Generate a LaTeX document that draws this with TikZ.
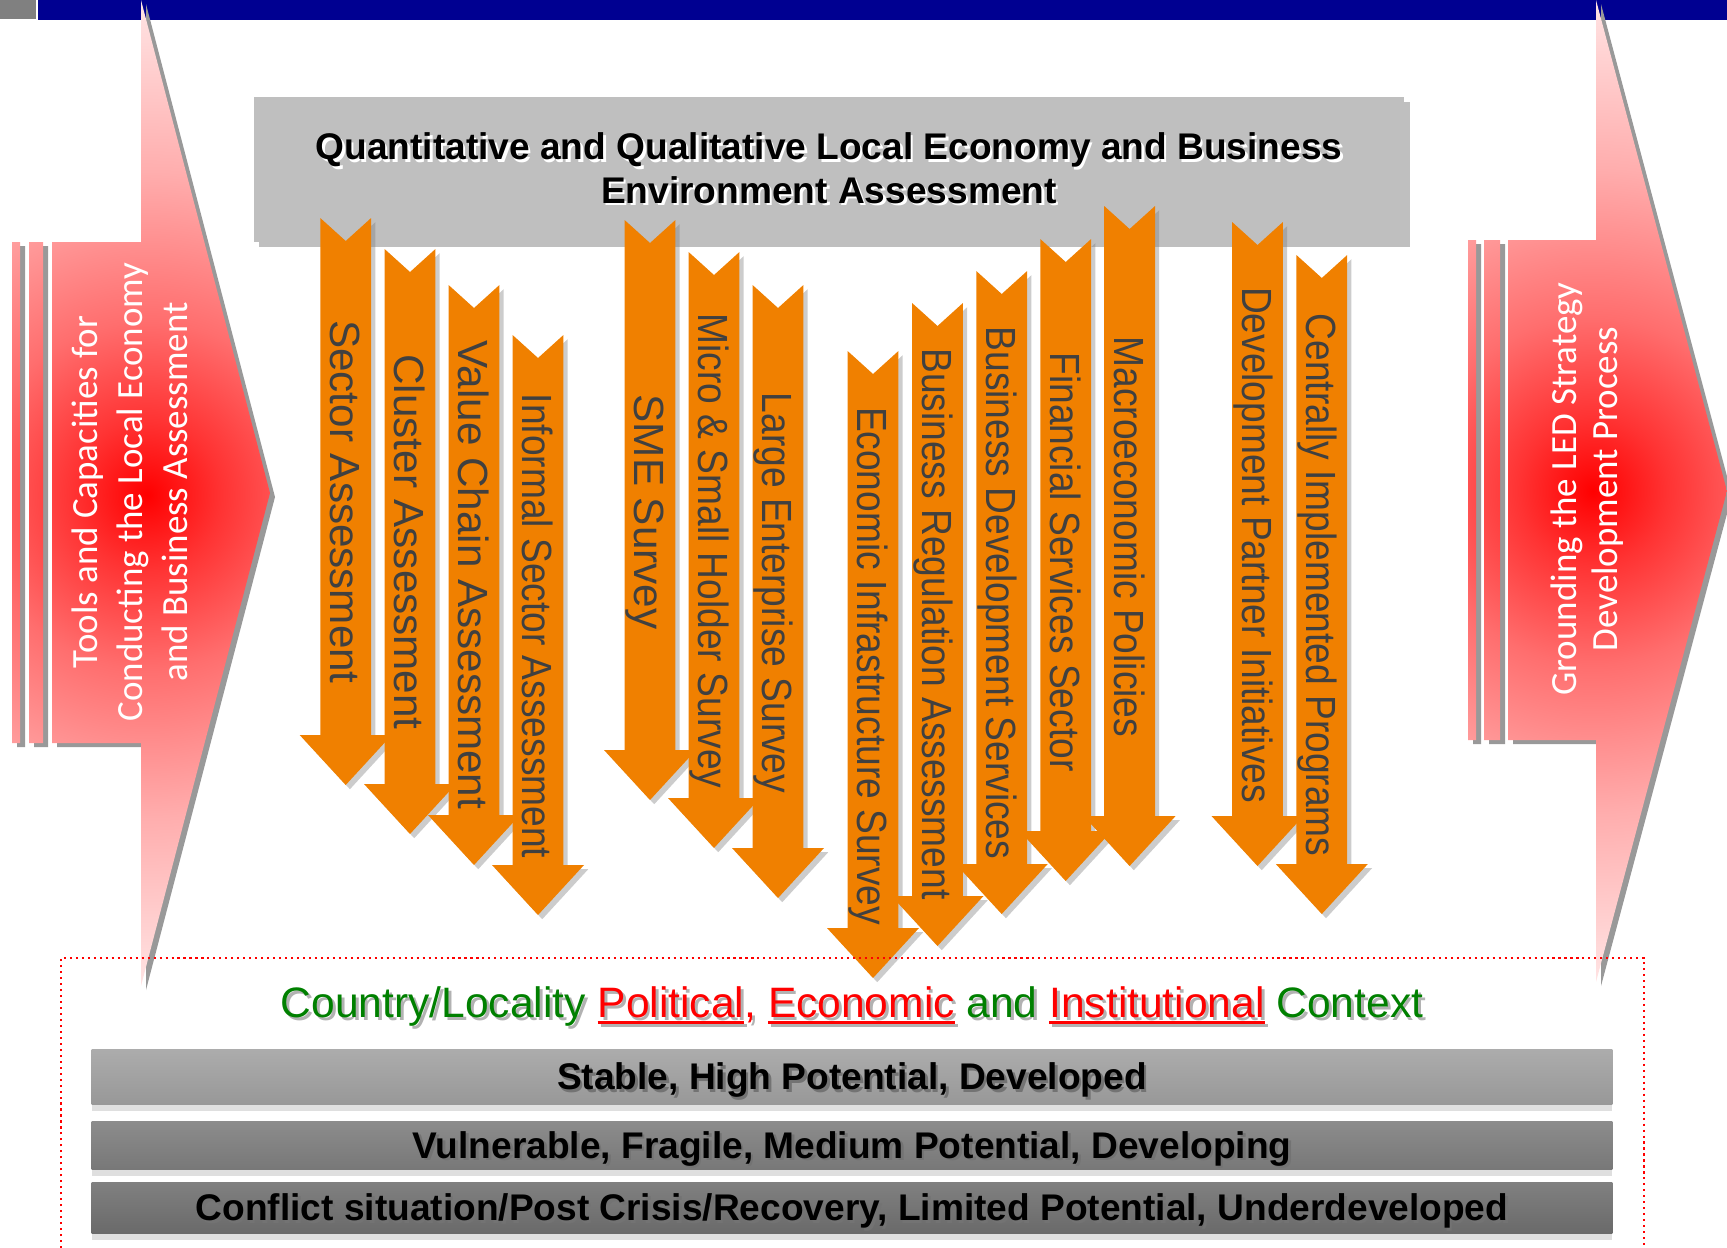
\documentclass[tikz,border=0pt]{standalone}
\usepackage{fontspec}
\setmainfont{Liberation Sans}
\newfontfamily\calib{Carlito}
\usetikzlibrary{shadows}

\definecolor{barblue}{RGB}{0,0,145}
\definecolor{orng}{RGB}{240,128,0}
\definecolor{arrtxt}{RGB}{64,64,64}
\definecolor{hdrgray}{RGB}{191,191,191}
\definecolor{ctxgreen}{RGB}{0,128,0}
\definecolor{barA}{RGB}{172,172,172}
\definecolor{barAb}{RGB}{152,152,152}
\definecolor{barB}{RGB}{140,140,140}
\definecolor{barBb}{RGB}{120,120,120}
\definecolor{barC}{RGB}{128,128,128}
\definecolor{barCb}{RGB}{106,106,106}

% text with a soft offset copy behind it
\newcommand\shadowed[2]{\leavevmode\rlap{\kern.7pt\raisebox{-.7pt}{\color{#1}#2}}#2}
\newcommand\redline[1]{\setbox0\hbox{#1}\rlap{\rule[-1.9pt]{\wd0}{0.75pt}}\box0\relax}

\pgfdeclareradialshading{ledglow}{\pgfpoint{0bp}{0bp}}{color(0bp)=(red); color(3bp)=(red!80!white); color(7bp)=(red!57!white); color(13bp)=(red!32!white); color(20bp)=(red!10!white); color(25bp)=(white); color(50bp)=(white)}

\tikzset{
  oarrow/.style={fill=orng, drop shadow={shadow xshift=1.2pt, shadow yshift=-1.2pt, opacity=.4}},
  otext/.style={rotate=-90, text=arrtxt, inner sep=0pt, text height=8.6pt, text depth=0pt, font=\fontsize{12}{14}\selectfont},
  bigtext/.style={rotate=90, text=white, align=center, inner sep=0pt, font=\calib\fontsize{10.5}{12.8}\selectfont},
  hdrbox/.style={fill=hdrgray, minimum width=11.5cm, minimum height=1.45cm, align=center, inner sep=0pt,
    drop shadow={shadow xshift=1.5pt, shadow yshift=-1.5pt, opacity=.5}, font=\bfseries\fontsize{10.55}{12.5}\selectfont},
  ctxbar/.style={minimum width=15.2cm, inner sep=0pt, text height=7.6pt, text depth=0pt,
    drop shadow={shadow xshift=0pt, shadow yshift=-2pt, opacity=.25}, font=\bfseries\fontsize{10.55}{12}\selectfont},
  bigshadow/.style={black!40, shift={(5,4)}}
}

\begin{document}
\begin{tikzpicture}[x=0.01cm,y=-0.01cm]
\useasboundingbox (0,0) rectangle (1727,1247);
\clip (0,0) rectangle (1727,1247);

\fill[barblue] (0,0) rectangle (1727,20);

% left process arrow
\fill[bigshadow] (12,242) rectangle (20,743) (29,242) rectangle (43,743)
  (52,242) -- (141,242) -- (141,0) -- (270,493) -- (141,986) -- (141,743) -- (52,743) -- cycle;
\begin{scope}
  \clip (12,242) rectangle (20,743) (29,242) rectangle (43,743)
    (52,242) -- (141,242) -- (141,0) -- (270,493) -- (141,986) -- (141,743) -- (52,743) -- cycle;
  \shade[shading=ledglow] (147,495) circle (620);
\end{scope}
\node[bigtext] (tools) at (130,492) {Tools and Capacities for\\Conducting the Local Economy\\and Business Assessment};

% right process arrow
\fill[bigshadow] (1468,240) rectangle (1476,740) (1484,240) rectangle (1500,740)
  (1508,240) -- (1596,240) -- (1596,0) -- (1727,491) -- (1596,982) -- (1596,740) -- (1508,740) -- cycle;
\begin{scope}
  \clip (1468,240) rectangle (1476,740) (1484,240) rectangle (1500,740)
    (1508,240) -- (1596,240) -- (1596,0) -- (1727,491) -- (1596,982) -- (1596,740) -- (1508,740) -- cycle;
  \shade[shading=ledglow] (1593,491) circle (620);
\end{scope}
\node[bigtext, font=\calib\fontsize{10.5}{11.8}\selectfont] (ground) at (1587,489) {Grounding the LED Strategy\\Development Process};

\filldraw[fill=black!50, draw=white, line width=0.8pt] (-5,-5) rectangle (37,20);

% assessment box
\node[hdrbox] (hdr) at (829,169.5) {\shadowed{white}{Quantitative and Qualitative Local Economy and Business}\\\shadowed{white}{Environment Assessment}};

% tool arrows
\foreach \n/\cx/\ya/\yb/\yc/\sx/\txt in {
  1/345.7/218/785/502/1/Sector Assessment,
  2/410/249/834/542/1/Cluster Assessment,
  3/474/285/865/575/1/Value Chain Assessment,
  4/538/335/915/626/.88/Informal Sector Assessment,
  5/650/220/800/512/1/SME Survey,
  6/714/252/848/551/.88/Micro \& Small Holder Survey,
  7/778/285/898/593/.88/Large Enterprise Survey,
  8/873/351/978/666/.88/Economic Infrastructure Survey,
  9/937.5/303/946/624/.88/Business Regulation Assessment,
  10/1001.7/271/914/593/.88/Business Development Services,
  11/1065.7/239/881/562/.88/Financial Services Sector,
  12/1129.6/206/866/537/.88/Macroeconomic Policies,
  13/1257.5/222/866/545/.88/Development Partner Initiatives,
  14/1321.8/255/914/585/.88/Centrally Implemented Programs}
{
  \fill[oarrow] (\cx-25.4,\ya) -- (\cx,\ya+23) -- (\cx+25.4,\ya) -- (\cx+25.4,\yb-50) -- (\cx+46,\yb-50)
    -- (\cx,\yb) -- (\cx-46,\yb-50) -- (\cx-25.4,\yb-50) -- cycle;
  \node[otext] (arr\n) at (\cx,\yc) {\scalebox{\sx}[1]{\txt}};
}

% context frame
\draw[red, line width=0.8pt, dash pattern=on 0.6pt off 1.1pt] (61,1260) -- (61,958) -- (1644,958) -- (1644,1260);

\node[inner sep=0pt, text height=8.7pt, text depth=0pt, font=\fontsize{12.1}{14}\selectfont] (ctx) at (852,1002)
  {\rlap{\kern.8pt\raisebox{-.8pt}{\color{black!30}Country/Locality \redline{Political}, \redline{Economic} and \redline{Institutional} Context}}%
   \textcolor{ctxgreen}{Country/Locality} \textcolor{red}{\redline{Political},} \textcolor{red}{\redline{Economic}} \textcolor{ctxgreen}{and} \textcolor{red}{\redline{Institutional}} \textcolor{ctxgreen}{Context}};

\node[ctxbar, minimum height=0.55cm, top color=barA, bottom color=barAb] (stable) at (852,1076.5)
  {\shadowed{black!55}{Stable, High Potential, Developed}};
\node[ctxbar, minimum height=0.48cm, top color=barB, bottom color=barBb] (fragile) at (852,1145)
  {\shadowed{black!55}{Vulnerable, Fragile, Medium Potential, Developing}};
\node[ctxbar, minimum height=0.51cm, top color=barC, bottom color=barCb] (conflict) at (852,1207.5)
  {\shadowed{black!55}{Conflict situation/Post Crisis/Recovery, Limited Potential, Underdeveloped}};
\end{tikzpicture}
\end{document}
